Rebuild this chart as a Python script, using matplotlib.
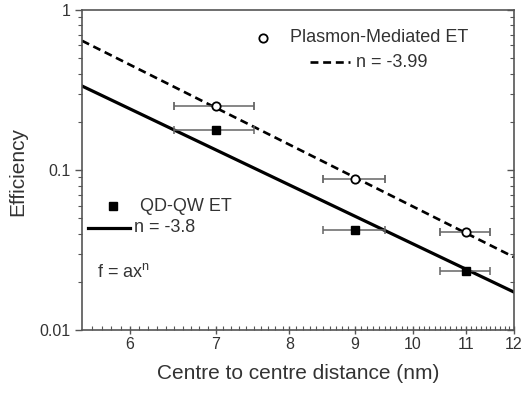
import matplotlib
matplotlib.use('Agg')
import matplotlib.pyplot as plt
from matplotlib.lines import Line2D
from matplotlib.ticker import FixedLocator, FuncFormatter, NullFormatter, LogLocator
import numpy as np

plt.rcParams['font.family'] = ['Liberation Sans', 'DejaVu Sans']
plt.rcParams['mathtext.default'] = 'regular'

# data
dist = [7, 9, 11]
dist_err = [0.5, 0.5, 0.5]
plasmon_eff = [0.25, 0.088, 0.041]
qdqw_eff = [0.178, 0.042, 0.0235]

# power-law fits f = a x^n
plasmon_a, plasmon_n = 578.0, -3.99
qdqw_a, qdqw_n = 218.0, -3.8

x_ticks = [6, 7, 8, 9, 10, 11, 12]
y_ticks = [0.01, 0.1, 1]
y_ticklabels = ['0.01', '0.1', '1']

txt = '#333333'
frame = '#555555'

fig = plt.figure(figsize=(5.29, 3.93), dpi=100)
ax = fig.add_axes([0.155, 0.160, 0.8166, 0.8146])

xfit = np.linspace(5.5, 12, 200)
ax.plot(xfit, plasmon_a * xfit ** plasmon_n, color='black', lw=1.9,
        linestyle=(0, (3, 1.8)), zorder=2)
ax.plot(xfit, qdqw_a * xfit ** qdqw_n, color='black', lw=2.3, zorder=2)

ax.errorbar(dist, plasmon_eff, xerr=dist_err, fmt='o', mfc='white', mec='black',
            mew=1.3, ms=6, ecolor='#666666', elinewidth=1.1, capsize=3,
            capthick=1.1, zorder=3)
ax.errorbar(dist, qdqw_eff, xerr=dist_err, fmt='s', mfc='black', mec='black',
            ms=5.5, ecolor='#666666', elinewidth=1.1, capsize=3,
            capthick=1.1, zorder=3)

ax.set_xscale('log')
ax.set_yscale('log')
ax.set_xlim(5.5, 12)
ax.set_ylim(0.01, 1)

ax.xaxis.set_major_locator(FixedLocator(x_ticks))
ax.xaxis.set_major_formatter(FuncFormatter(lambda v, p: '%d' % round(v)))
ax.xaxis.set_minor_locator(FixedLocator(np.arange(5.6, 12.0, 0.1)))
ax.xaxis.set_minor_formatter(NullFormatter())
ax.yaxis.set_major_locator(FixedLocator(y_ticks))
ax.yaxis.set_major_formatter(FuncFormatter(lambda v, p: y_ticklabels[y_ticks.index(min(y_ticks, key=lambda t: abs(t - v)))]))
ax.yaxis.set_minor_locator(LogLocator(base=10, subs=np.arange(2, 10)))
ax.yaxis.set_minor_formatter(NullFormatter())

ax.tick_params(axis='x', which='major', direction='inout', length=6, width=1,
               color=frame, labelsize=11.5, labelcolor=txt, pad=2)
ax.tick_params(axis='x', which='minor', direction='in', length=3, width=0.8,
               color=frame)
ax.tick_params(axis='y', which='major', direction='out', length=5, width=1,
               color=frame, labelsize=11.5, labelcolor=txt, right=True)
ax.tick_params(axis='y', which='minor', direction='out', length=3, width=0.8,
               color=frame, right=True)
# right axis ticks point inward
for t in ax.yaxis.get_major_ticks() + ax.yaxis.get_minor_ticks():
    t.tick2line.set_marker(matplotlib.lines.TICKLEFT)

for s in ax.spines.values():
    s.set_color(frame)
    s.set_linewidth(1.2)

ax.set_xlabel('Centre to centre distance (nm)', fontsize=15, color=txt)
ax.set_ylabel('Efficiency', fontsize=15, color=txt)
ax.xaxis.set_label_coords(0.5, -0.105)
ax.yaxis.set_label_coords(-0.127, 0.494)

# legend, drawn by hand
tr = ax.transAxes
ax.add_line(Line2D([0.419], [0.9125], transform=tr, marker='o', ms=6,
                   mfc='white', mec='black', mew=1.3, ls='none'))
ax.text(0.481, 0.9125, 'Plasmon-Mediated ET', transform=tr, fontsize=13,
        color=txt, va='center')
ax.add_line(Line2D([0.528, 0.620], [0.8375, 0.8375], transform=tr,
                   color='black', lw=1.9, linestyle=(0, (3, 1.8))))
ax.text(0.634, 0.8375, 'n = -3.99', transform=tr, fontsize=13,
        color=txt, va='center')

ax.add_line(Line2D([0.072], [0.3875], transform=tr, marker='s', ms=5.5,
                   mfc='black', mec='black', ls='none'))
ax.text(0.134, 0.3875, 'QD-QW ET', transform=tr, fontsize=13,
        color=txt, va='center')
ax.add_line(Line2D([0.014, 0.111], [0.319, 0.319], transform=tr,
                   color='black', lw=2.3))
ax.text(0.121, 0.319, 'n = -3.8', transform=tr, fontsize=13,
        color=txt, va='center')
ax.text(0.035, 0.181, 'f = ax$^{n}$', transform=tr, fontsize=13,
        color=txt, va='center')

fig.savefig('out.png', dpi=100)
